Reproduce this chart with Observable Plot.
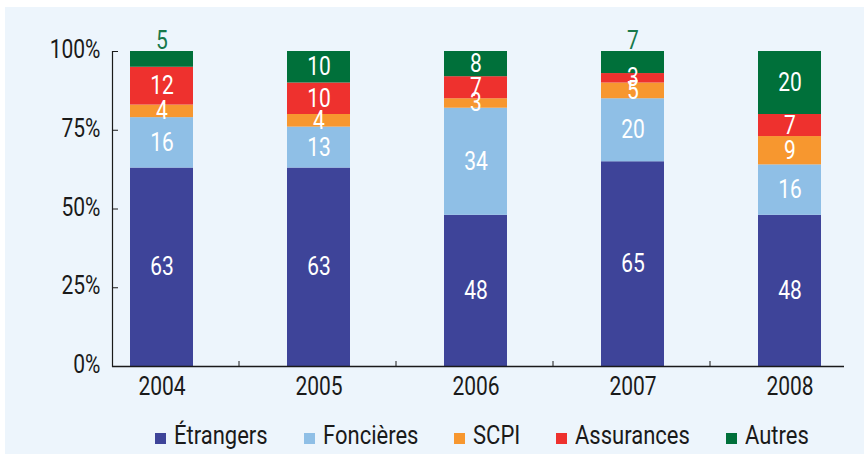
<!DOCTYPE html>
<html><head><meta charset="utf-8">
<script src="https://cdn.jsdelivr.net/npm/d3@7"></script>
<script src="https://cdn.jsdelivr.net/npm/@observablehq/plot@0.6"></script>
<style>
html,body{margin:0;padding:0;background:#fff;width:864px;height:454px;overflow:hidden;}
#panel{position:absolute;left:5px;top:7px;width:859px;height:447px;background:#EDF5FC;}
#chart{position:absolute;left:0;top:0;}
#legend{position:absolute;left:0;top:423px;width:864px;height:30px;font-family:Roboto,"DejaVu Sans Condensed",sans-serif;font-size:25px;line-height:25px;color:#1a1a1a;}
.item{position:absolute;top:0;white-space:nowrap}
.sw{display:inline-block;width:11px;height:11px;margin-right:8px;vertical-align:baseline}
.lab{display:inline-block;white-space:nowrap;transform-origin:left center}
</style></head><body>
<div id="panel"></div><div id="chart"></div><div id="legend"></div>
<script>
const years = ["2004","2005","2006","2007","2008"];
const series = ["Étrangers","Foncières","SCPI","Assurances","Autres"];
const etrangers = [63,63,48,65,48];
const foncieres = [16,13,34,20,16];
const scpi = [4,4,3,5,9];
const assurances = [12,10,7,3,7];
const autres = [5,10,8,7,20];
const colors = ["#3E4499","#8FBFE6","#F7972F","#EE312E","#00703A"];
const yTicks = [0,25,50,75,100];

const seriesValues = [etrangers, foncieres, scpi, assurances, autres];
const table = [];
series.forEach((s, i) => years.forEach((y, j) => table.push({series: s, year: y, value: seriesValues[i][j]})));

const font = 'Roboto,"DejaVu Sans Condensed",sans-serif';
const ink = "#1a1a1a";
const isAbove = d => d.series === "Autres" && d.value < 8;

const plot = Plot.plot({
  width: 864, height: 410,
  marginTop: 51, marginBottom: 44, marginLeft: 112, marginRight: 20,
  style: {background: "transparent", fontFamily: font, fontSize: "25px", color: ink, overflow: "visible"},
  x: {domain: years, range: [128, 822], paddingInner: 0.6, paddingOuter: 0, label: null, axis: null},
  y: {domain: [0, 100], label: null, axis: null},
  color: {domain: series, range: colors},
  marks: [
    Plot.barY(table, {x: "year", y: "value", fill: "series"}),
    Plot.text(table, Plot.stackY({x: "year", y: "value", z: "series", text: d => isAbove(d) ? null : d.value, fill: "white", fontSize: 25, fontFamily: font})),
    Plot.text(table, Plot.stackY2({x: "year", y: "value", z: "series", text: d => isAbove(d) ? d.value : null, fill: "#17794a", lineAnchor: "bottom", dy: -3, fontSize: 25, fontFamily: font})),
    Plot.axisY({ticks: yTicks, tickFormat: d => d + "%", tickSize: 0, tickPadding: 12, dy: -1.5, label: null, fontSize: 25, fontFamily: font, fill: ink}),
    Plot.axisY({ticks: yTicks, tickSize: 6, dx: 6, fill: "none", stroke: ink, label: null}),
    Plot.axisX({tickSize: 0, tickPadding: 11, label: null, fontSize: 25, fontFamily: font, fill: ink}),
    Plot.axisX({ticks: years.slice(1), tickSize: 5, dx: -80, dy: -5, fill: "none", stroke: ink, label: null}),
    Plot.ruleY([0], {stroke: ink, strokeWidth: 1.5}),
    Plot.frame({anchor: "left", stroke: ink, strokeWidth: 1.2})
  ]
});
document.getElementById("chart").appendChild(plot);

// condense the glyphs (the reference uses a condensed typeface)
plot.querySelectorAll("text").forEach(t => {
  const w = t.getComputedTextLength();
  if (w > 0) {
    t.setAttribute("textLength", (w * 0.84).toFixed(2));
    t.setAttribute("lengthAdjust", "spacingAndGlyphs");
  }
});

// legend
const legend = document.getElementById("legend");
const k = 0.88, gap = 36;
const items = series.map((s, i) => {
  const item = document.createElement("span");
  item.className = "item";
  const sw = document.createElement("span");
  sw.className = "sw";
  sw.style.background = colors[i];
  const lab = document.createElement("span");
  lab.className = "lab";
  lab.textContent = s;
  item.appendChild(sw);
  item.appendChild(lab);
  legend.appendChild(item);
  const w = lab.getBoundingClientRect().width;
  lab.style.width = (w * k) + "px";
  lab.style.transform = `scaleX(${k})`;
  return item;
});
const widths = items.map(it => it.getBoundingClientRect().width);
const total = d3.sum(widths) + gap * (items.length - 1);
let x = 482 - total / 2;
items.forEach((it, i) => { it.style.left = x + "px"; x += widths[i] + gap; });
</script>
</body></html>
